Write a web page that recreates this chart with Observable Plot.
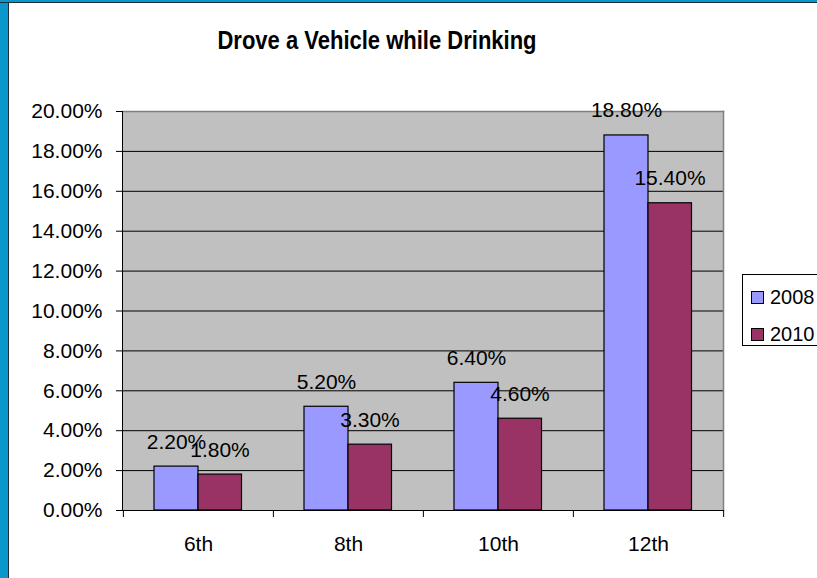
<!DOCTYPE html>
<html>
<head>
<meta charset="utf-8">
<script src="https://cdn.jsdelivr.net/npm/d3@7"></script>
<script src="https://cdn.jsdelivr.net/npm/@observablehq/plot@0.6"></script>
<style>
  html, body { margin: 0; padding: 0; background: #fff; }
  body { width: 817px; height: 578px; overflow: hidden; font-family: "Liberation Sans", Arial, sans-serif; }
  #wrap { position: relative; width: 817px; height: 578px; background: #fff; overflow: hidden; }
  #stripL { position: absolute; left: 0; top: 0; width: 8px; height: 578px; background: #0a98cc; border-right: 1px solid #1c2e38; }
  #stripT { position: absolute; left: 0; top: 0; width: 817px; height: 2px; background: #0a98cc; border-bottom: 1px solid #1c2e38; }
  #title { position: relative; width: 754px; height: 80px; text-align: center; font-weight: bold;
           font-size: 22px; line-height: 26px; box-sizing: border-box; }
  #title span { display: inline-block; margin-top: 28px; transform: scaleY(1.2); transform-origin: center; }
  #chart { position: relative; }
  #legend { position: absolute; left: 742px; top: 274px; width: 90px; height: 72px;
            border: 1px solid #000; background: #fff; box-sizing: border-box; font-size: 20px; }
  .item { position: absolute; left: 8px; display: flex; align-items: center; }
  .sw { width: 11px; height: 11px; border: 1px solid #000; margin-right: 6px; }
</style>
</head>
<body>
<div id="wrap">
  <div id="stripL"></div>
  <div id="stripT"></div>
  <div id="title"><span>Drove a Vehicle while Drinking</span></div>
  <div id="chart"></div>
  <div id="legend"></div>
</div>
<script>
const grades = ["6th", "8th", "10th", "12th"];
const years = ["2008", "2010"];
const values2008 = [2.2, 5.2, 6.4, 18.8];
const values2010 = [1.8, 3.3, 4.6, 15.4];
const yTicks = [0, 2, 4, 6, 8, 10, 12, 14, 16, 18, 20];
const colors = ["#9999FF", "#993366"];

const data = grades.flatMap((g, i) => [
  {grade: g, year: years[0], value: values2008[i]},
  {grade: g, year: years[1], value: values2010[i]}
]);

const W = 817, H = 498;
const mL = 122, mR = 94, mT = 31, mB = 68;
const step = (W - mL - mR) / grades.length;
const fmt = d => d.toFixed(2) + "%";

const chart = Plot.plot({
  width: W,
  height: H,
  marginLeft: mL,
  marginRight: mR,
  marginTop: mT,
  marginBottom: mB,
  style: {background: "transparent", fontFamily: "'Liberation Sans', Arial, sans-serif", fontSize: "21px", color: "#000"},
  x: {domain: grades, padding: 0, label: null},
  y: {domain: [0, 20], label: null},
  marks: [
    Plot.frame({fill: "#c0c0c0"}),
    Plot.gridY(yTicks.filter(t => t > 0 && t < 20), {stroke: "#000", strokeOpacity: 1}),
    Plot.frame({anchor: "top", stroke: "#808080", strokeWidth: 1.5}),
    Plot.frame({anchor: "right", stroke: "#808080", strokeWidth: 1.5}),
    Plot.barY(data.filter(d => d.year === years[0]), {x: "grade", y: "value", fill: colors[0], stroke: "#000", strokeWidth: 1.2, insetLeft: 31, insetRight: 75}),
    Plot.barY(data.filter(d => d.year === years[1]), {x: "grade", y: "value", fill: colors[1], stroke: "#000", strokeWidth: 1.2, insetLeft: 75, insetRight: 31.5}),
    Plot.ruleY([0], {stroke: "#000"}),
    Plot.frame({anchor: "left", stroke: "#000"}),
    Plot.axisY(yTicks, {tickSize: 6, tickPadding: 14, tickFormat: fmt, fontSize: 21, label: null}),
    Plot.axisX({tickSize: 0, tickPadding: 26, fontSize: 21, label: null}),
    Plot.axisX(grades, {tickSize: 7, tickFormat: () => "", dx: -step / 2, label: null}),
    Plot.axisX([grades[grades.length - 1]], {tickSize: 7, tickFormat: () => "", dx: step / 2, label: null}),
    Plot.text(data.filter(d => d.year === years[0]), {x: "grade", y: "value", text: d => fmt(d.value), dx: -22, dy: -18, lineAnchor: "bottom", fontSize: 21, fill: "#000"}),
    Plot.text(data.filter(d => d.year === years[1]), {x: "grade", y: "value", text: d => fmt(d.value), dx: 21.5, dy: -18, lineAnchor: "bottom", fontSize: 21, fill: "#000"})
  ]
});
document.getElementById("chart").appendChild(chart);

const legend = document.getElementById("legend");
years.forEach((y, i) => {
  const item = document.createElement("div");
  item.className = "item";
  item.style.top = (i === 0 ? 11 : 48) + "px";
  const sw = document.createElement("div");
  sw.className = "sw";
  sw.style.background = colors[i];
  const t = document.createElement("span");
  t.textContent = y;
  item.appendChild(sw);
  item.appendChild(t);
  legend.appendChild(item);
});
</script>
</body>
</html>
